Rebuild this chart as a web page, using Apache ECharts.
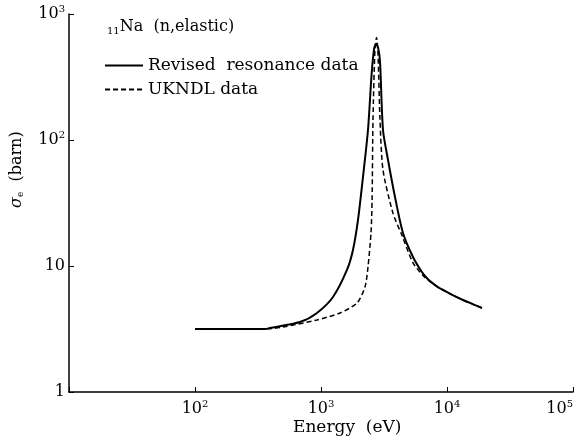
<!DOCTYPE html>
<html>
<head>
<meta charset="utf-8">
<script src="https://cdn.jsdelivr.net/npm/echarts@6/dist/echarts.min.js"></script>
<style>html,body{margin:0;padding:0;background:#fff;}#c{width:579px;height:446px;}</style>
</head>
<body>
<div id="c"></div>
<script>
// Energy (eV), cross-section (barn)
const revisedE = [100, 359, 393, 681, 929, 1245, 1607, 1794, 1966, 2154, 2360, 2520, 2640, 2733, 2840, 2940, 3105, 3404, 3866, 4473, 5372, 6300, 6937, 7500, 8300, 9290, 11000, 13390, 16000, 18950];
const revisedS = [3.16, 3.16, 3.22, 3.59, 4.24, 5.67, 9.3, 13.4, 23.2, 50.9, 120, 330, 530, 580, 540, 420, 120, 69.4, 35.3, 18.3, 11.8, 9.0, 8.0, 7.45, 6.9, 6.45, 5.9, 5.37, 4.98, 4.64];
const ukndlE = [100, 359, 499, 929, 1415, 1932, 2234, 2360, 2494, 2543, 2586, 2680, 2760, 2834, 2940, 3105, 3724, 4393, 5372, 6680, 7500, 8300, 9290, 11000, 13390, 16000, 18950];
const ukndlS = [3.16, 3.16, 3.28, 3.73, 4.24, 5.09, 6.81, 9.82, 18.3, 33.4, 144, 520, 650, 480, 144, 57.8, 26.3, 17.5, 10.6, 8.1, 7.4, 6.9, 6.45, 5.9, 5.37, 4.98, 4.64];
const xTicks = {10: '', 100: '10{s|2}', 1000: '10{s|3}', 10000: '10{s|4}', 100000: '10{s|5}'};
const yTicks = {1: '1', 10: '10', 100: '10{s|2}', 1000: '10{s|3}'};

const font = 'DejaVu Serif';
const FS = 16;
const rich = {s: {fontSize: 10, verticalAlign: 'top', padding: [0, 0, 9, 0], fontFamily: font, color: '#000'}};
function pairs(xs, ys) { return xs.map((x, i) => [x, ys[i]]); }

const chart = echarts.init(document.getElementById('c'));
chart.setOption({
  animation: false,
  backgroundColor: '#fff',
  title: {
    text: '{sub|11}Na  (n,elastic)',
    left: 102, top: 12,
    textStyle: {fontFamily: font, fontSize: FS, fontWeight: 'normal', color: '#000',
      rich: {sub: {fontSize: 10, verticalAlign: 'bottom', padding: [9, 0, 0, 0], fontFamily: font, color: '#000'}}}
  },
  legend: {
    orient: 'vertical', left: 104, top: 57, padding: 0,
    itemWidth: 38, itemHeight: 14, itemGap: 7,
    itemStyle: {opacity: 0},
    textStyle: {fontFamily: font, fontSize: 17, color: '#000'},
    data: ['Revised  resonance data', 'UKNDL data']
  },
  grid: {left: 69, right: 6, top: 14, bottom: 54, containLabel: false, outerBoundsMode: 'none'},
  xAxis: {
    type: 'log', min: 10, max: 100000, logBase: 10,
    axisLine: {lineStyle: {color: '#000', width: 1.5}},
    axisTick: {inside: true, length: 5, lineStyle: {color: '#000'}},
    splitLine: {show: false},
    axisLabel: {margin: 7, fontFamily: font, fontSize: FS, color: '#000', alignMaxLabel: 'right',
      formatter: v => xTicks[Math.round(v)] !== undefined ? xTicks[Math.round(v)] : '', rich: rich}
  },
  yAxis: {
    type: 'log', min: 1, max: 1000, logBase: 10,
    axisLine: {show: true, lineStyle: {color: '#000', width: 1.5}},
    axisTick: {show: true, inside: true, length: 5, lineStyle: {color: '#000'}},
    splitLine: {show: false},
    axisLabel: {margin: 4, fontFamily: font, fontSize: FS, color: '#000',
      formatter: v => yTicks[Math.round(v)] !== undefined ? yTicks[Math.round(v)] : '', rich: rich}
  },
  graphic: [
    {type: 'text', left: 293, top: 419, style: {text: 'Energy  (eV)', font: '17px "DejaVu Serif"', fill: '#000'}},
    {type: 'text', x: 9, y: 208, rotation: Math.PI / 2,
      style: {text: '{i|σ}{sub|e}  (barn)', font: '16px "DejaVu Serif"', fill: '#000',
        rich: {i: {fontStyle: 'italic', fontSize: 16, fontFamily: font}, sub: {fontSize: 9, verticalAlign: 'bottom', padding: [7, 0, 0, 0], fontFamily: font}}}}
  ],
  series: [
    {name: 'Revised  resonance data', type: 'line', data: pairs(revisedE, revisedS), showSymbol: false, symbol: 'none',
      smooth: 0.25, lineStyle: {color: '#000', width: 2}, itemStyle: {color: '#000'}},
    {name: 'UKNDL data', type: 'line', data: pairs(ukndlE, ukndlS), showSymbol: false, symbol: 'none',
      smooth: 0.25, lineStyle: {color: '#000', width: 1.5, type: [5, 3]}, itemStyle: {color: '#000'}}
  ]
});
</script>
</body>
</html>
